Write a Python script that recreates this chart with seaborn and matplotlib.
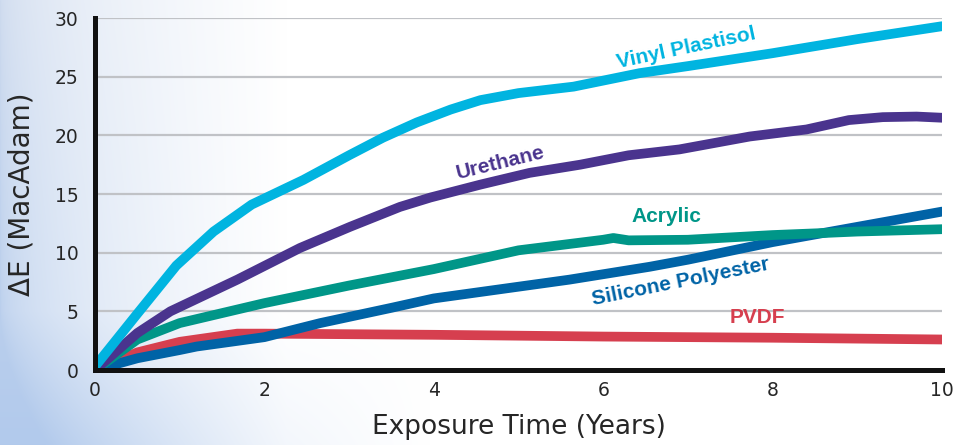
import numpy as np
import pandas as pd
import matplotlib
matplotlib.use("Agg")
import matplotlib.pyplot as plt
import seaborn as sns

# Exposure time (years) and Delta E readings per coating
vinyl_x = [0, 0.5, 0.96, 1.4, 1.85, 2.46, 3.0, 3.4, 3.8, 4.2, 4.55, 5.0, 5.65, 6.43, 7.0, 8.0, 9.0, 10.0]
vinyl_y = [0.3, 4.8, 8.9, 11.8, 14.1, 16.2, 18.3, 19.8, 21.1, 22.2, 23.0, 23.6, 24.15, 25.3, 25.9, 27.0, 28.2, 29.3]

urethane_x = [0, 0.5, 0.89, 1.68, 2.42, 3.01, 3.6, 3.96, 4.55, 5.13, 5.73, 6.3, 6.9, 7.73, 8.4, 8.9, 9.3, 9.7, 10.0]
urethane_y = [0, 3.15, 5.0, 7.7, 10.4, 12.2, 13.9, 14.7, 15.8, 16.8, 17.5, 18.3, 18.8, 19.9, 20.5, 21.3, 21.55, 21.6, 21.5]

acrylic_x = [0, 0.5, 1.0, 2.0, 3.0, 4.0, 5.0, 6.0, 6.12, 6.3, 7.0, 8.0, 8.52, 9.0, 10.0]
acrylic_y = [0, 2.6, 4.0, 5.7, 7.2, 8.6, 10.2, 11.1, 11.25, 11.05, 11.1, 11.5, 11.65, 11.8, 12.0]

silicone_x = [0, 0.5, 1.0, 1.2, 2.0, 2.66, 3.5, 4.0, 5.0, 5.6, 6.55, 7.0, 8.0, 9.0, 10.0]
silicone_y = [0, 1.0, 1.7, 2.0, 2.8, 4.0, 5.3, 6.1, 7.1, 7.7, 8.8, 9.4, 10.9, 12.2, 13.5]

pvdf_x = [0, 0.5, 1.0, 1.68, 2.0, 4.0, 6.0, 8.0, 10.0]
pvdf_y = [0, 1.5, 2.4, 3.1, 3.1, 3.0, 2.85, 2.75, 2.6]

x_ticks = [0, 2, 4, 6, 8, 10]
y_ticks = [0, 5, 10, 15, 20, 25, 30]

sns.set_style("white")
plt.rcParams["font.family"] = ["DejaVu Sans"]

fig = plt.figure(figsize=(9.56, 4.45), dpi=100)

# sky-ish background fading to white (lighter at the top, bluer at the bottom)
bg = fig.add_axes([0, 0, 1, 1], zorder=0)
h, w = 445, 956
xx = np.linspace(0, 1, w)[None, :]
yy = np.linspace(0, 1, h)[:, None]
t = np.clip(xx / 0.3, 0, 1) ** 0.5
bottom = np.clip((yy - 0.7) / 0.3, 0, 1) * np.clip(1 - xx / 0.45, 0, 1) * 0.45
k = np.clip((1 - t) + bottom, 0, 1)
top_c = np.array([205, 218, 238]) / 255.0
bot_c = np.array([178, 202, 236]) / 255.0
blue = (1 - yy)[..., None] * top_c + yy[..., None] * bot_c
img = (1 - k)[..., None] * np.ones(3) + k[..., None] * blue
bg.imshow(img, aspect="auto", extent=[0, 1, 0, 1])
bg.axis("off")

ax = fig.add_axes([95 / 956, 1 - 370 / 445, (942 - 95) / 956, (370 - 18) / 445], zorder=1)
ax.patch.set_alpha(0)

series = [
    (pvdf_x, pvdf_y, "#d63f4f"),
    (silicone_x, silicone_y, "#0063a6"),
    (acrylic_x, acrylic_y, "#009688"),
    (urethane_x, urethane_y, "#4a348e"),
    (vinyl_x, vinyl_y, "#00b4e0"),
]
for xs, ys, c in series:
    sns.lineplot(x=xs, y=ys, color=c, linewidth=7, ax=ax, estimator=None,
                 solid_joinstyle="round", zorder=3)

ax.set_xlim(0, 10)
ax.set_ylim(0, 30)
ax.set_xticks(x_ticks)
ax.set_yticks(y_ticks)
ax.tick_params(axis="both", length=0, labelsize=13.5)
ax.tick_params(axis="x", pad=8)
ax.tick_params(axis="y", pad=12)
ax.yaxis.grid(True, color="#c0c2c6", linewidth=1.6, zorder=1)
ax.xaxis.grid(False)
for s in ["top", "right"]:
    ax.spines[s].set_visible(False)
for s in ["left", "bottom"]:
    ax.spines[s].set_color("#111111")
    ax.spines[s].set_linewidth(3.6)
    ax.spines[s].set_zorder(5)

ax.set_xlabel("Exposure Time (Years)", fontsize=19, labelpad=10)
ax.set_ylabel("ΔE (MacAdam)", fontsize=20, labelpad=14)

lab = dict(ha="center", va="center", rotation_mode="anchor",
           family=["Liberation Sans", "DejaVu Sans"], fontweight="bold", fontsize=15)
ax.text(6.98, 27.45, "Vinyl Plastisol", color="#00b4e0", rotation=11.9, **lab)
ax.text(4.79, 17.65, "Urethane", color="#4a348e", rotation=13.8, **lab)
ax.text(6.75, 13.05, "Acrylic", color="#009688", **lab)
ax.text(6.91, 7.5, "Silicone Polyester", color="#0063a6", rotation=11.4, **lab)
ax.text(7.82, 4.5, "PVDF", color="#d63f4f", **lab)

fig.savefig("out.png", dpi=100)
